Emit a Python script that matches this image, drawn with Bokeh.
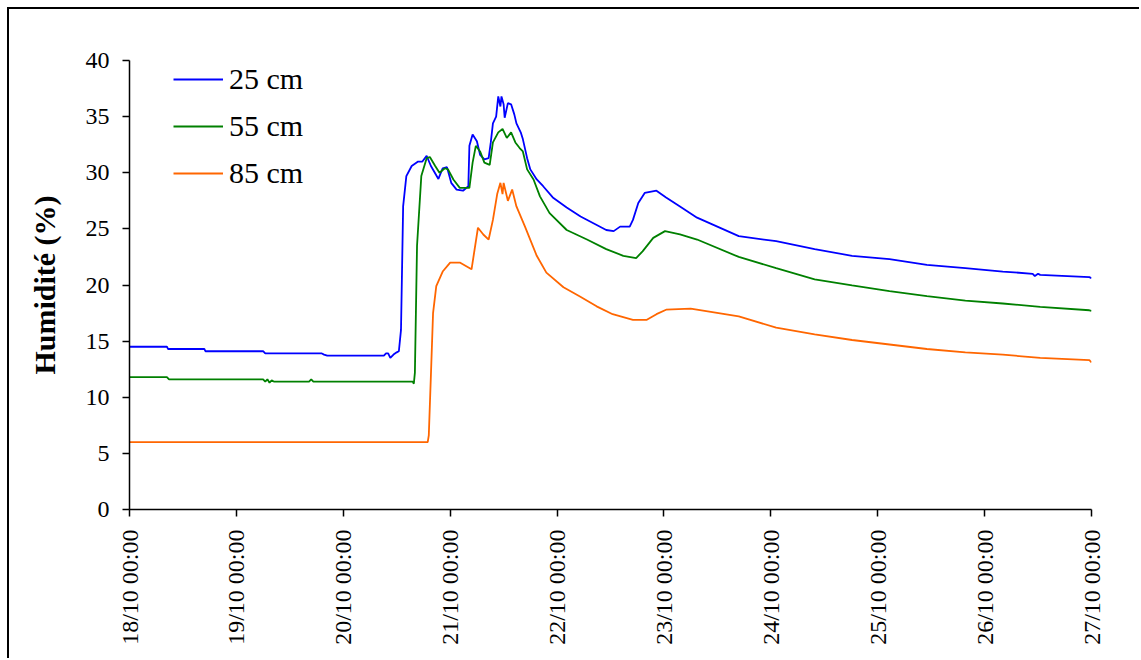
import math
import pandas as pd
from bokeh.plotting import figure
from bokeh.models import (Range1d, FixedTicker, DatetimeTickFormatter, Legend, LegendItem)
from bokeh.embed import file_html
from bokeh.resources import INLINE

# time axis: days since 18/10 00:00
start = pd.Timestamp("2006-10-18 00:00")
n_days = 9

days_25 = [0.00, 0.35, 0.36, 0.70, 0.71, 1.25, 1.27, 1.80, 1.82, 1.85, 2.38, 2.40, 2.42, 2.44,
           2.47, 2.50, 2.52, 2.54, 2.56, 2.59, 2.64, 2.70, 2.74, 2.78, 2.82, 2.89, 2.93, 2.97,
           3.01, 3.06, 3.12, 3.17, 3.18, 3.21, 3.25, 3.28, 3.32, 3.36, 3.38, 3.40, 3.43, 3.45,
           3.47, 3.48, 3.50, 3.51, 3.54, 3.57, 3.60, 3.62, 3.66, 3.68, 3.72, 3.75, 3.81, 3.87,
           3.96, 4.09, 4.22, 4.34, 4.46, 4.53, 4.59, 4.68, 4.71, 4.76, 4.82, 4.93, 5.02, 5.15,
           5.31, 5.70, 6.05, 6.41, 6.76, 7.11, 7.46, 7.82, 8.17, 8.45, 8.47, 8.50, 8.52, 8.98, 9.00]
hum_25 = [14.5, 14.5, 14.3, 14.3, 14.1, 14.1, 13.9, 13.9, 13.8, 13.7, 13.7, 13.9, 13.9, 13.5,
          13.8, 14.0, 14.1, 16.0, 27.0, 29.7, 30.6, 31.0, 31.0, 31.5, 30.6, 29.45, 30.4, 30.5,
          29.1, 28.5, 28.4, 28.8, 32.4, 33.4, 32.8, 31.6, 31.2, 31.3, 32.7, 34.4, 35.0, 36.8,
          35.9, 36.8, 36.1, 34.9, 36.2, 36.1, 35.2, 34.4, 33.6, 33.0, 31.3, 30.3, 29.4, 28.8,
          27.8, 26.9, 26.1, 25.5, 24.9, 24.8, 25.2, 25.2, 25.8, 27.3, 28.2, 28.4, 27.8, 27.0,
          26.0, 24.35, 23.9, 23.2, 22.6, 22.3, 21.8, 21.5, 21.2, 21.0, 20.8, 21.0, 20.9, 20.7, 20.6]

days_55 = [0.00, 0.35, 0.37, 1.25, 1.27, 1.29, 1.31, 1.33, 1.35, 1.68, 1.70, 1.72, 2.65, 2.66,
           2.67, 2.69, 2.73, 2.78, 2.81, 2.86, 2.90, 2.95, 2.98, 3.03, 3.09, 3.18, 3.21, 3.24,
           3.28, 3.32, 3.37, 3.40, 3.45, 3.49, 3.53, 3.57, 3.61, 3.65, 3.68, 3.72, 3.78, 3.84,
           3.93, 4.09, 4.28, 4.46, 4.62, 4.74, 4.80, 4.90, 5.01, 5.15, 5.31, 5.70, 6.05, 6.41,
           6.76, 7.11, 7.46, 7.82, 8.17, 8.52, 8.98, 9.00]
hum_55 = [11.8, 11.8, 11.6, 11.6, 11.4, 11.6, 11.3, 11.5, 11.4, 11.4, 11.6, 11.4, 11.4, 11.2,
          12.2, 23.5, 29.7, 31.3, 31.4, 30.6, 30.0, 30.4, 30.3, 29.4, 28.65, 28.65, 30.9, 32.4,
          31.9, 30.9, 30.7, 32.7, 33.6, 33.9, 33.1, 33.6, 32.7, 32.2, 31.9, 30.3, 29.4, 27.9,
          26.4, 24.9, 24.05, 23.2, 22.6, 22.4, 23.0, 24.2, 24.8, 24.5, 24.05, 22.5, 21.5, 20.5,
          19.96, 19.45, 19.0, 18.6, 18.35, 18.05, 17.75, 17.7]

days_85 = [0.00, 2.79, 2.80, 2.82, 2.84, 2.87, 2.93, 3.00, 3.09, 3.20, 3.26, 3.31, 3.36, 3.40,
           3.44, 3.47, 3.49, 3.50, 3.54, 3.58, 3.62, 3.70, 3.81, 3.90, 4.06, 4.21, 4.37, 4.52,
           4.71, 4.84, 4.93, 5.02, 5.25, 5.70, 6.05, 6.41, 6.76, 7.11, 7.46, 7.82, 8.17, 8.52,
           8.98, 9.00]
hum_85 = [6.0, 6.0, 6.6, 12.0, 17.5, 19.9, 21.2, 22.0, 22.0, 21.4, 25.1, 24.5, 24.05, 25.8,
          28.1, 29.1, 28.1, 29.1, 27.5, 28.5, 27.0, 25.2, 22.6, 21.1, 19.8, 19.0, 18.1, 17.4,
          16.9, 16.9, 17.4, 17.8, 17.9, 17.2, 16.2, 15.6, 15.1, 14.7, 14.3, 14.0, 13.8, 13.5,
          13.3, 13.1]

labels = ["25 cm", "55 cm", "85 cm"]
colors = ["#0000FF", "#008000", "#FF6600"]
y_ticks = [0, 5, 10, 15, 20, 25, 30, 35, 40]


def to_time(days):
    return start + pd.to_timedelta(days, unit="D")


serif = "Liberation Serif"

p = figure(width=1132, height=651, x_axis_type="datetime",
           output_backend="svg", toolbar_location=None,
           x_range=Range1d(start, start + pd.Timedelta(days=n_days)),
           y_range=Range1d(0, 40),
           min_border_left=120, min_border_right=50, min_border_top=51, min_border_bottom=151)
p.styles = {"border-top": "2px solid black", "border-left": "2px solid black",
            "margin-left": "7px", "margin-top": "7px"}
p.outline_line_color = None
p.background_fill_color = "white"
p.border_fill_color = "white"
p.xgrid.visible = False
p.ygrid.visible = False

renderers = []
for d, h, c in zip([days_25, days_55, days_85], [hum_25, hum_55, hum_85], colors):
    r = p.line(to_time(d), h, line_color=c, line_width=1.8)
    renderers.append(r)

tick_ms = [(start + pd.Timedelta(days=i)).timestamp() * 1000 for i in range(n_days + 1)]
p.xaxis.ticker = FixedTicker(ticks=tick_ms)
fmt = "%d/%m %H:%M"
p.xaxis.formatter = DatetimeTickFormatter(microseconds=fmt, milliseconds=fmt, seconds=fmt,
                                          minsec=fmt, minutes=fmt, hourmin=fmt, hours=fmt,
                                          days=fmt, months=fmt, years=fmt)
p.xaxis.major_label_orientation = math.pi / 2
p.yaxis.ticker = FixedTicker(ticks=y_ticks)

for ax in (p.xaxis, p.yaxis):
    ax.axis_line_color = "black"
    ax.axis_line_width = 1.5
    ax.major_tick_line_color = "black"
    ax.major_tick_line_width = 1.5
    ax.major_tick_out = 7
    ax.major_tick_in = 0
    ax.minor_tick_line_color = None
    ax.major_label_text_font = serif
    ax.major_label_text_font_size = "24px"
    ax.major_label_text_color = "black"
    ax.major_label_standoff = 13

p.yaxis.axis_label = "Humidité (%)"
p.yaxis.axis_label_text_font = serif
p.yaxis.axis_label_text_font_style = "bold"
p.yaxis.axis_label_text_font_size = "30px"
p.yaxis.axis_label_text_color = "black"
p.yaxis.axis_label_standoff = 22

legend = Legend(items=[LegendItem(label=l, renderers=[r]) for l, r in zip(labels, renderers)],
                location=(44, 318), glyph_width=50, glyph_height=36, label_height=36,
                label_standoff=6, spacing=11, padding=0, margin=0,
                border_line_color=None, background_fill_alpha=0,
                label_text_font=serif, label_text_font_size="30px", label_text_color="black")
p.add_layout(legend)

open("out.html", "w").write(file_html(p, INLINE))
